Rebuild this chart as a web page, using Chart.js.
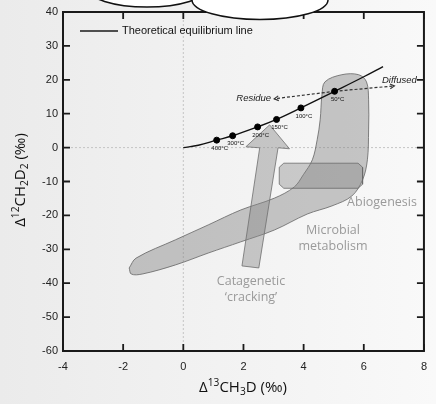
<!DOCTYPE html>
<html>
<head>
<meta charset="utf-8">
<script src="https://cdn.jsdelivr.net/npm/chart.js@4"></script>
<style>
  html, body { margin: 0; padding: 0; }
  body { width: 436px; height: 404px; background: linear-gradient(to right, #ebebeb, #f9f9f9); }
  #wrap { position: relative; width: 436px; height: 404px; }
</style>
</head>
<body>
<div id="wrap"><canvas id="chart" width="436" height="404"></canvas></div>
<script>
// Línea de equilibrio teórico
const eqLineX = [0, 0.5, 1.11, 1.64, 2.47, 3.10, 3.91, 5.03, 6.0, 6.64];
const eqLineY = [0, 0.7, 2.2, 3.5, 6.1, 8.3, 11.7, 16.6, 20.9, 23.9];

// Puntos de temperatura
const tempX = [1.11, 1.64, 2.47, 3.10, 3.91, 5.03];
const tempY = [2.2, 3.5, 6.1, 8.3, 11.7, 16.6];
const tempLabels = ['400°C', '300°C', '200°C', '150°C', '100°C', '50°C'];

// Flechas Residue / Diffused
const residueX = [5.03, 3.02];
const residueY = [16.6, 14.4];
const diffusedX = [5.03, 7.02];
const diffusedY = [16.6, 18.2];

// Regiones grises
const microbialX = [-1.80, -1.57, -0.26, 0.83, 1.91, 3.03, 3.69, 3.99, 4.29, 4.45, 4.55, 4.61, 4.71, 5.27, 5.83, 6.09, 6.16, 6.16, 6.12, 5.96, 5.60, 4.94, 4.12, 3.03, 1.91, 0.83, -0.26, -1.37, -1.73, -1.80];
const microbialY = [-35.5, -32.6, -27.2, -22.8, -18.4, -14.9, -11.6, -8.0, -3.6, 2.3, 8.2, 15.6, 19.4, 21.5, 21.5, 19.4, 14.1, 5.2, -3.6, -9.5, -14.3, -17.2, -19.6, -24.3, -27.8, -31.1, -34.6, -37.3, -37.3, -35.5];

const abioX = [3.34, 5.81, 5.96, 5.96, 5.81, 3.34, 3.19, 3.19, 3.34];
const abioY = [-4.6, -4.6, -5.8, -10.8, -12.0, -12.0, -10.8, -5.8, -4.6];

const arrowX = [2.87, 3.53, 3.15, 2.51, 1.95, 2.54, 2.08, 2.87];
const arrowY = [6.7, -0.35, -0.06, -35.5, -34.9, -0.06, 0.24, 6.7];

const xTickValues = [-4, -2, 0, 2, 4, 6, 8];
const yTickValues = [-60, -50, -40, -30, -20, -10, 0, 10, 20, 30, 40];

const toPoints = (xs, ys) => xs.map((v, i) => ({ x: v, y: ys[i] }));

const SANS = '"Liberation Sans", Arial, sans-serif';
const SOFT = '"Open Sans", sans-serif';

function drawRich(ctx, parts, size, cx, cy) {
    let w = 0;
    parts.forEach(p => {
        ctx.font = (p.s ? size * 0.68 : size) + 'px ' + SOFT;
        p.w = ctx.measureText(p.t).width;
        w += p.w;
    });
    let x = cx - w / 2;
    ctx.textBaseline = 'middle';
    ctx.textAlign = 'left';
    parts.forEach(p => {
        ctx.font = (p.s ? size * 0.68 : size) + 'px ' + SOFT;
        const dy = p.s === 1 ? -size * 0.3 : p.s === -1 ? size * 0.28 : 0;
        ctx.fillText(p.t, x, cy + dy);
        x += p.w;
    });
}

const decor = {
    id: 'decor',
    beforeDatasetsDraw(chart) {
        const { ctx, chartArea: a, scales: { x, y } } = chart;
        ctx.save();
        ctx.strokeStyle = '#c4c4c4';
        ctx.lineWidth = 1;
        ctx.setLineDash([2, 2]);
        const x0 = x.getPixelForValue(0), y0 = y.getPixelForValue(0);
        ctx.beginPath();
        ctx.moveTo(x0, a.top); ctx.lineTo(x0, a.bottom);
        ctx.moveTo(a.left, y0); ctx.lineTo(a.right, y0);
        ctx.stroke();
        ctx.restore();
    },
    afterDraw(chart) {
        const { ctx, chartArea: a, scales: { x, y } } = chart;
        ctx.save();

        // marco y ticks hacia adentro
        ctx.strokeStyle = '#1a1a1a';
        ctx.lineWidth = 2;
        ctx.strokeRect(a.left, a.top, a.width, a.height);
        ctx.lineWidth = 1.8;
        ctx.beginPath();
        xTickValues.forEach(v => {
            const px = x.getPixelForValue(v);
            ctx.moveTo(px, a.bottom); ctx.lineTo(px, a.bottom - 7);
            ctx.moveTo(px, a.top); ctx.lineTo(px, a.top + 7);
        });
        yTickValues.forEach(v => {
            const py = y.getPixelForValue(v);
            ctx.moveTo(a.left, py); ctx.lineTo(a.left + 7, py);
            ctx.moveTo(a.right, py); ctx.lineTo(a.right - 7, py);
        });
        ctx.stroke();

        // leyenda
        ctx.lineWidth = 1.5;
        ctx.beginPath();
        ctx.moveTo(80, 31); ctx.lineTo(118, 31);
        ctx.stroke();
        ctx.fillStyle = '#111';
        ctx.font = '11px ' + SANS;
        ctx.textBaseline = 'middle';
        ctx.fillText('Theoretical equilibrium line', 122, 31);

        // etiquetas de temperatura
        ctx.font = '6px ' + SANS;
        ctx.textAlign = 'center';
        tempLabels.forEach((t, i) => {
            ctx.fillText(t, x.getPixelForValue(tempX[i]) + 3, y.getPixelForValue(tempY[i]) + 8);
        });

        // puntas de flecha
        ctx.strokeStyle = '#333';
        ctx.lineWidth = 1.1;
        const head = (xs, ys) => {
            const x1 = x.getPixelForValue(xs[0]), y1 = y.getPixelForValue(ys[0]);
            const x2 = x.getPixelForValue(xs[1]), y2 = y.getPixelForValue(ys[1]);
            const ang = Math.atan2(y2 - y1, x2 - x1);
            ctx.beginPath();
            ctx.moveTo(x2 - 5 * Math.cos(ang - 0.5), y2 - 5 * Math.sin(ang - 0.5));
            ctx.lineTo(x2, y2);
            ctx.lineTo(x2 - 5 * Math.cos(ang + 0.5), y2 - 5 * Math.sin(ang + 0.5));
            ctx.stroke();
        };
        head(residueX, residueY);
        head(diffusedX, diffusedY);

        ctx.fillStyle = '#222';
        ctx.font = 'italic 9.5px ' + SANS;
        ctx.textAlign = 'right';
        ctx.fillText('Residue', x.getPixelForValue(residueX[1]) - 3, y.getPixelForValue(residueY[1]));
        ctx.textAlign = 'left';
        ctx.fillText('Diffused', 382, 80);

        // textos de regiones
        ctx.fillStyle = '#9a9a9a';
        ctx.font = '12.5px ' + SOFT;
        ctx.textAlign = 'center';
        ctx.fillText('Abiogenesis', 382, 202);
        ctx.fillText('Microbial', 333, 230);
        ctx.fillText('metabolism', 333, 246);
        ctx.fillText('Catagenetic', 251, 281);
        ctx.fillText('\u2018cracking\u2019', 251, 297);

        // títulos de ejes
        ctx.fillStyle = '#111';
        drawRich(ctx, [{ t: 'Δ' }, { t: '13', s: 1 }, { t: 'CH' }, { t: '3', s: -1 }, { t: 'D (‰)' }], 15, 243, 388);
        ctx.translate(21, 180);
        ctx.rotate(-Math.PI / 2);
        drawRich(ctx, [{ t: 'Δ' }, { t: '12', s: 1 }, { t: 'CH' }, { t: '2', s: -1 }, { t: 'D' }, { t: '2', s: -1 }, { t: ' (‰)' }], 15, 0, 0);
        ctx.setTransform(1, 0, 0, 1, 0, 0);

        // nubes arriba
        ctx.fillStyle = '#ffffff';
        ctx.strokeStyle = '#111';
        ctx.lineWidth = 1.5;
        ctx.beginPath();
        ctx.ellipse(147, -12, 60, 19, 0, 0, Math.PI * 2);
        ctx.fill(); ctx.stroke();
        ctx.beginPath();
        ctx.ellipse(260, 0, 68, 19.5, 0, 0, Math.PI * 2);
        ctx.fill(); ctx.stroke();

        ctx.restore();
    }
};

new Chart(document.getElementById('chart').getContext('2d'), {
    type: 'scatter',
    data: {
        datasets: [
            {
                data: toPoints(tempX, tempY),
                backgroundColor: '#000',
                borderColor: '#000',
                pointRadius: 3,
                showLine: false
            },
            {
                data: toPoints(eqLineX, eqLineY),
                showLine: true,
                borderColor: '#111',
                borderWidth: 1.4,
                pointRadius: 0,
                tension: 0.4,
                fill: false
            },
            {
                data: toPoints(residueX, residueY),
                showLine: true,
                borderColor: '#333',
                borderWidth: 1.2,
                borderDash: [3, 2],
                pointRadius: 0,
                fill: false
            },
            {
                data: toPoints(diffusedX, diffusedY),
                showLine: true,
                borderColor: '#333',
                borderWidth: 1.2,
                borderDash: [3, 2],
                pointRadius: 0,
                fill: false
            },
            {
                data: toPoints(abioX, abioY),
                showLine: true,
                borderColor: 'rgba(105,105,105,0.8)',
                borderWidth: 1,
                backgroundColor: 'rgba(130,130,130,0.38)',
                pointRadius: 0,
                tension: 0,
                fill: 'shape'
            },
            {
                data: toPoints(arrowX, arrowY),
                showLine: true,
                borderColor: 'rgba(110,110,110,0.8)',
                borderWidth: 1,
                backgroundColor: 'rgba(140,140,140,0.45)',
                pointRadius: 0,
                tension: 0,
                fill: 'shape'
            },
            {
                data: toPoints(microbialX, microbialY),
                showLine: true,
                borderColor: 'rgba(100,100,100,0.8)',
                borderWidth: 1,
                backgroundColor: 'rgba(120,120,120,0.4)',
                pointRadius: 0,
                tension: 0.35,
                fill: 'shape'
            }
        ]
    },
    options: {
        responsive: false,
        animation: false,
        layout: { padding: { left: 0, right: 8, top: 12, bottom: 0 } },
        plugins: {
            legend: { display: false },
            tooltip: { enabled: false }
        },
        scales: {
            x: {
                type: 'linear',
                min: -4,
                max: 8,
                afterFit: s => { s.height = 53; },
                grid: { display: false, drawTicks: false },
                border: { display: false },
                ticks: {
                    stepSize: 2,
                    padding: 9,
                    color: '#222',
                    font: { family: SANS, size: 11 }
                }
            },
            y: {
                min: -60,
                max: 40,
                afterFit: s => { s.width = 63; },
                grid: { display: false, drawTicks: false },
                border: { display: false },
                ticks: {
                    stepSize: 10,
                    padding: 5,
                    color: '#222',
                    font: { family: SANS, size: 11 }
                }
            }
        }
    },
    plugins: [decor]
});
</script>
</body>
</html>
